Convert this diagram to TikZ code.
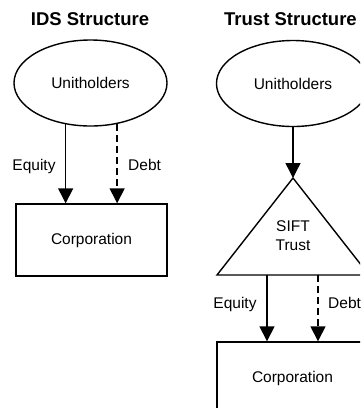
\documentclass[tikz,border=0pt]{standalone}
\usepackage{fontspec}
\setmainfont{Liberation Sans}
\usetikzlibrary{arrows.meta,shapes.geometric}
\begin{document}
\begin{tikzpicture}[x=1pt,y=-1pt,
  lbl/.style={font=\fontsize{15.5}{18}\selectfont, inner sep=0pt},
  heading/.style={font=\bfseries\fontsize{18.5}{22}\selectfont, inner sep=0pt, anchor=base},
  holder/.style={ellipse, draw, line width=1.4pt, minimum width=153pt, minimum height=86pt, inner sep=0pt, font=\fontsize{15.5}{18}\selectfont},
  corp/.style={rectangle, draw, line width=1.4pt, minimum width=151pt, minimum height=72pt, inner sep=0pt, font=\fontsize{15.5}{18}\selectfont},
  flow/.style={line width=1.4pt, -{Triangle[width=15pt,length=15pt]}},
  loan/.style={flow, dash pattern=on 6.5pt off 4.5pt}
]
\useasboundingbox (0,0) rectangle (360,408);
\fill[white] (0,0) rectangle (360,408);
\clip (0,0) rectangle (360,408);

% IDS structure (left)
\node[heading] (titleL) at (90,25) {IDS Structure};
\node[holder] (uL) at (90.5,83) {Unitholders};
\node[corp] (cL) at (91.5,240) {Corporation};
\draw[flow] (uL.239.5) -- (uL.239.5 |- cL.north);
\draw[loan] (uL.303.9) -- (uL.303.9 |- cL.north);
\node[lbl, anchor=base] (eqL) at (34,170.5) {Equity};
\node[lbl, anchor=base west] (dbL) at (128,170.5) {Debt};

% Trust structure (right)
\node[heading] (titleR) at (290.5,25) {Trust Structure};
\node[holder] (uR) at (293,83.5) {Unitholders};
\coordinate (apex) at (293,178);
\coordinate (baseL) at (217,275);
\coordinate (baseR) at (369,275);
\draw[line width=1.4pt, line join=miter] (apex) -- (baseL) -- (baseR) -- cycle;
\node[lbl, align=center] (sift) at (293,235.5) {SIFT\\[0.5pt]Trust};
\draw[flow] (uR.south) -- (apex);
\node[corp] (cR) at (292.5,378) {Corporation};
\coordinate (outEq) at (267,275);
\coordinate (outDb) at (318,275);
\draw[flow] (outEq) -- (outEq |- cR.north);
\draw[loan] (outDb) -- (outDb |- cR.north);
\node[lbl, anchor=base] (eqR) at (235,308) {Equity};
\node[lbl, anchor=base west] (dbR) at (328,308) {Debt};
\end{tikzpicture}
\end{document}
